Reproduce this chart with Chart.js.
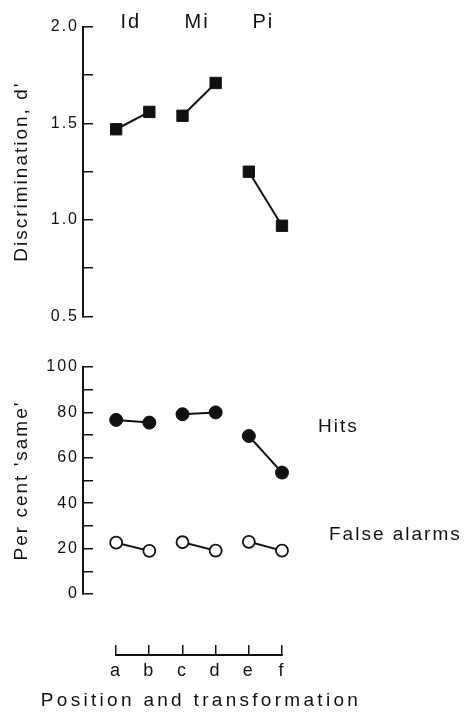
<!DOCTYPE html>
<html lang="en">
<head>
  <meta charset="UTF-8" />
  <title>Discrimination and per cent 'same'</title>
  <script src="https://cdn.jsdelivr.net/npm/chart.js"></script>
  <style>
    body {
      margin: 0;
      background: #fff;
      width: 465px;
      height: 718px;
      position: relative;
      overflow: hidden;
    }
    canvas { position: absolute; left: 0; }
    #dChart { top: 0; }
    #pctChart { top: 340px; }
    #xChart { top: 620px; }
  </style>
</head>
<body>
  <canvas id="dChart" width="465" height="340"></canvas>
  <canvas id="pctChart" width="465" height="280"></canvas>
  <canvas id="xChart" width="465" height="98"></canvas>
  <script>
    // values
    const positions = ['a', 'b', 'c', 'd', 'e', 'f'];
    const groups = ['Id', 'Mi', 'Pi'];
    const dPrime = [1.47, 1.56, 1.54, 1.71, 1.25, 0.97];
    const hits = [76.7, 75.5, 79.2, 80.0, 69.6, 53.5];
    const falseAlarms = [22.6, 19.0, 22.8, 19.1, 23.0, 19.1];
    const seriesNames = ['Hits', 'False alarms'];
    const dLabelled = [0.5, 1.0, 1.5, 2.0];
    const pctLabelled = [0, 20, 40, 60, 80, 100];
    const xTitle = 'Position and transformation';

    const ink = '#111';
    const family = "'Liberation Sans', Arial, sans-serif";
    Chart.defaults.font.family = family;
    Chart.defaults.color = ink;
    Chart.defaults.animation = false;

    // canvas letter spacing, the print has wide tracking
    const tracking = {
      id: 'tracking',
      beforeUpdate(chart, args, opts) { chart.ctx.letterSpacing = opts.px + 'px'; },
      beforeDraw(chart, args, opts) { chart.ctx.letterSpacing = opts.px + 'px'; }
    };

    function pts(values) {
      return values.map((v, i) => ({ x: i, y: v }));
    }

    // only join the two points of each pair
    const pairSegment = {
      borderColor: c => (c.p0DataIndex % 2 ? 'rgba(0,0,0,0)' : undefined)
    };

    function series(values, style, radius, fill, bw) {
      return {
        data: pts(values),
        borderColor: ink,
        borderWidth: 2,
        pointStyle: style,
        pointRadius: radius,
        pointBackgroundColor: fill,
        pointBorderColor: ink,
        pointBorderWidth: bw,
        segment: pairSegment,
        clip: false
      };
    }

    function leftAxis(min, max, step, labelled, digits, title) {
      return {
        type: 'linear',
        min: min,
        max: max,
        afterFit: s => { s.width = 83; },
        border: { color: ink, width: 2 },
        grid: { drawOnChartArea: false, color: ink, lineWidth: 1.5, tickLength: -10 },
        ticks: {
          stepSize: step,
          autoSkip: false,
          padding: 14,
          font: { size: 16 },
          color: ink,
          callback: v => (labelled.includes(v) ? v.toFixed(digits) : '')
        },
        title: { display: true, text: title, font: { size: 19 }, color: ink, padding: { top: 10 } }
      };
    }

    const hiddenX = { type: 'linear', min: -1, max: 5, display: false };
    const quiet = { legend: { display: false }, tooltip: { enabled: false }, tracking: { px: 2 } };

    function textStyle(ctx, size, spacing, align, baseline) {
      ctx.font = size + 'px ' + family;
      ctx.letterSpacing = spacing + 'px';
      ctx.fillStyle = ink;
      ctx.textAlign = align;
      ctx.textBaseline = baseline;
    }

    // Id / Mi / Pi over each pair
    const groupLabels = {
      id: 'groupLabels',
      afterDraw(chart) {
        const { ctx, chartArea, scales: { x } } = chart;
        ctx.save();
        textStyle(ctx, 20, 2, 'center', 'alphabetic');
        groups.forEach((g, i) => {
          ctx.fillText(g, x.getPixelForValue(2 * i + 0.5) - 2, chartArea.top + 1);
        });
        ctx.restore();
      }
    };

    // Hits / False alarms to the right of the lower panel
    const seriesLabels = {
      id: 'seriesLabels',
      afterDraw(chart) {
        const { ctx, chartArea, scales: { y } } = chart;
        const at = [73.6, 26];
        const dx = [36, 47];
        ctx.save();
        textStyle(ctx, 19, 2, 'left', 'middle');
        seriesNames.forEach((n, i) => {
          ctx.fillText(n, chartArea.right + dx[i], y.getPixelForValue(at[i]));
        });
        ctx.restore();
      }
    };

    // axis title is wider than the a..f axis, so it is drawn here without a maxWidth
    const bottomTitle = {
      id: 'bottomTitle',
      afterDraw(chart) {
        const { ctx, scales: { x } } = chart;
        ctx.save();
        textStyle(ctx, 19, 3.3, 'center', 'alphabetic');
        ctx.fillText(xTitle, (x.left + x.right) / 2 + 2, x.bottom - 12);
        ctx.restore();
      }
    };

    new Chart(document.getElementById('dChart'), {
      type: 'line',
      data: {
        datasets: [series(dPrime, 'rect', 8, ink, 1)]
      },
      options: {
        responsive: false,
        events: [],
        layout: { padding: { top: 27, right: 183, bottom: 22, left: 0 } },
        scales: {
          x: hiddenX,
          y: leftAxis(0.5, 2.0, 0.25, dLabelled, 1, "Discrimination, d'")
        },
        plugins: quiet
      },
      plugins: [tracking, groupLabels]
    });

    new Chart(document.getElementById('pctChart'), {
      type: 'line',
      data: {
        datasets: [
          series(hits, 'circle', 6.5, ink, 1),
          series(falseAlarms, 'circle', 6, '#fff', 1.8)
        ]
      },
      options: {
        responsive: false,
        events: [],
        layout: { padding: { top: 27, right: 183, bottom: 26, left: 0 } },
        scales: {
          x: hiddenX,
          y: leftAxis(0, 100, 10, pctLabelled, 0, "Per cent 'same'")
        },
        plugins: quiet
      },
      plugins: [tracking, seriesLabels]
    });

    // shared position axis along the bottom
    new Chart(document.getElementById('xChart'), {
      type: 'line',
      data: { labels: positions, datasets: [] },
      options: {
        responsive: false,
        events: [],
        layout: { padding: { top: 25, right: 183, bottom: 0, left: 116 } },
        scales: {
          x: {
            type: 'category',
            offset: false,
            afterFit: s => { s.height = 63; },
            border: { color: ink, width: 2 },
            grid: { drawOnChartArea: false, color: ink, lineWidth: 1.5, tickLength: -10 },
            ticks: { padding: 15, font: { size: 18 }, color: ink, autoSkip: false, maxRotation: 0 }
          },
          y: { display: false }
        },
        plugins: { legend: { display: false }, tooltip: { enabled: false }, tracking: { px: 2 } }
      },
      plugins: [tracking, bottomTitle]
    });
  </script>
</body>
</html>
